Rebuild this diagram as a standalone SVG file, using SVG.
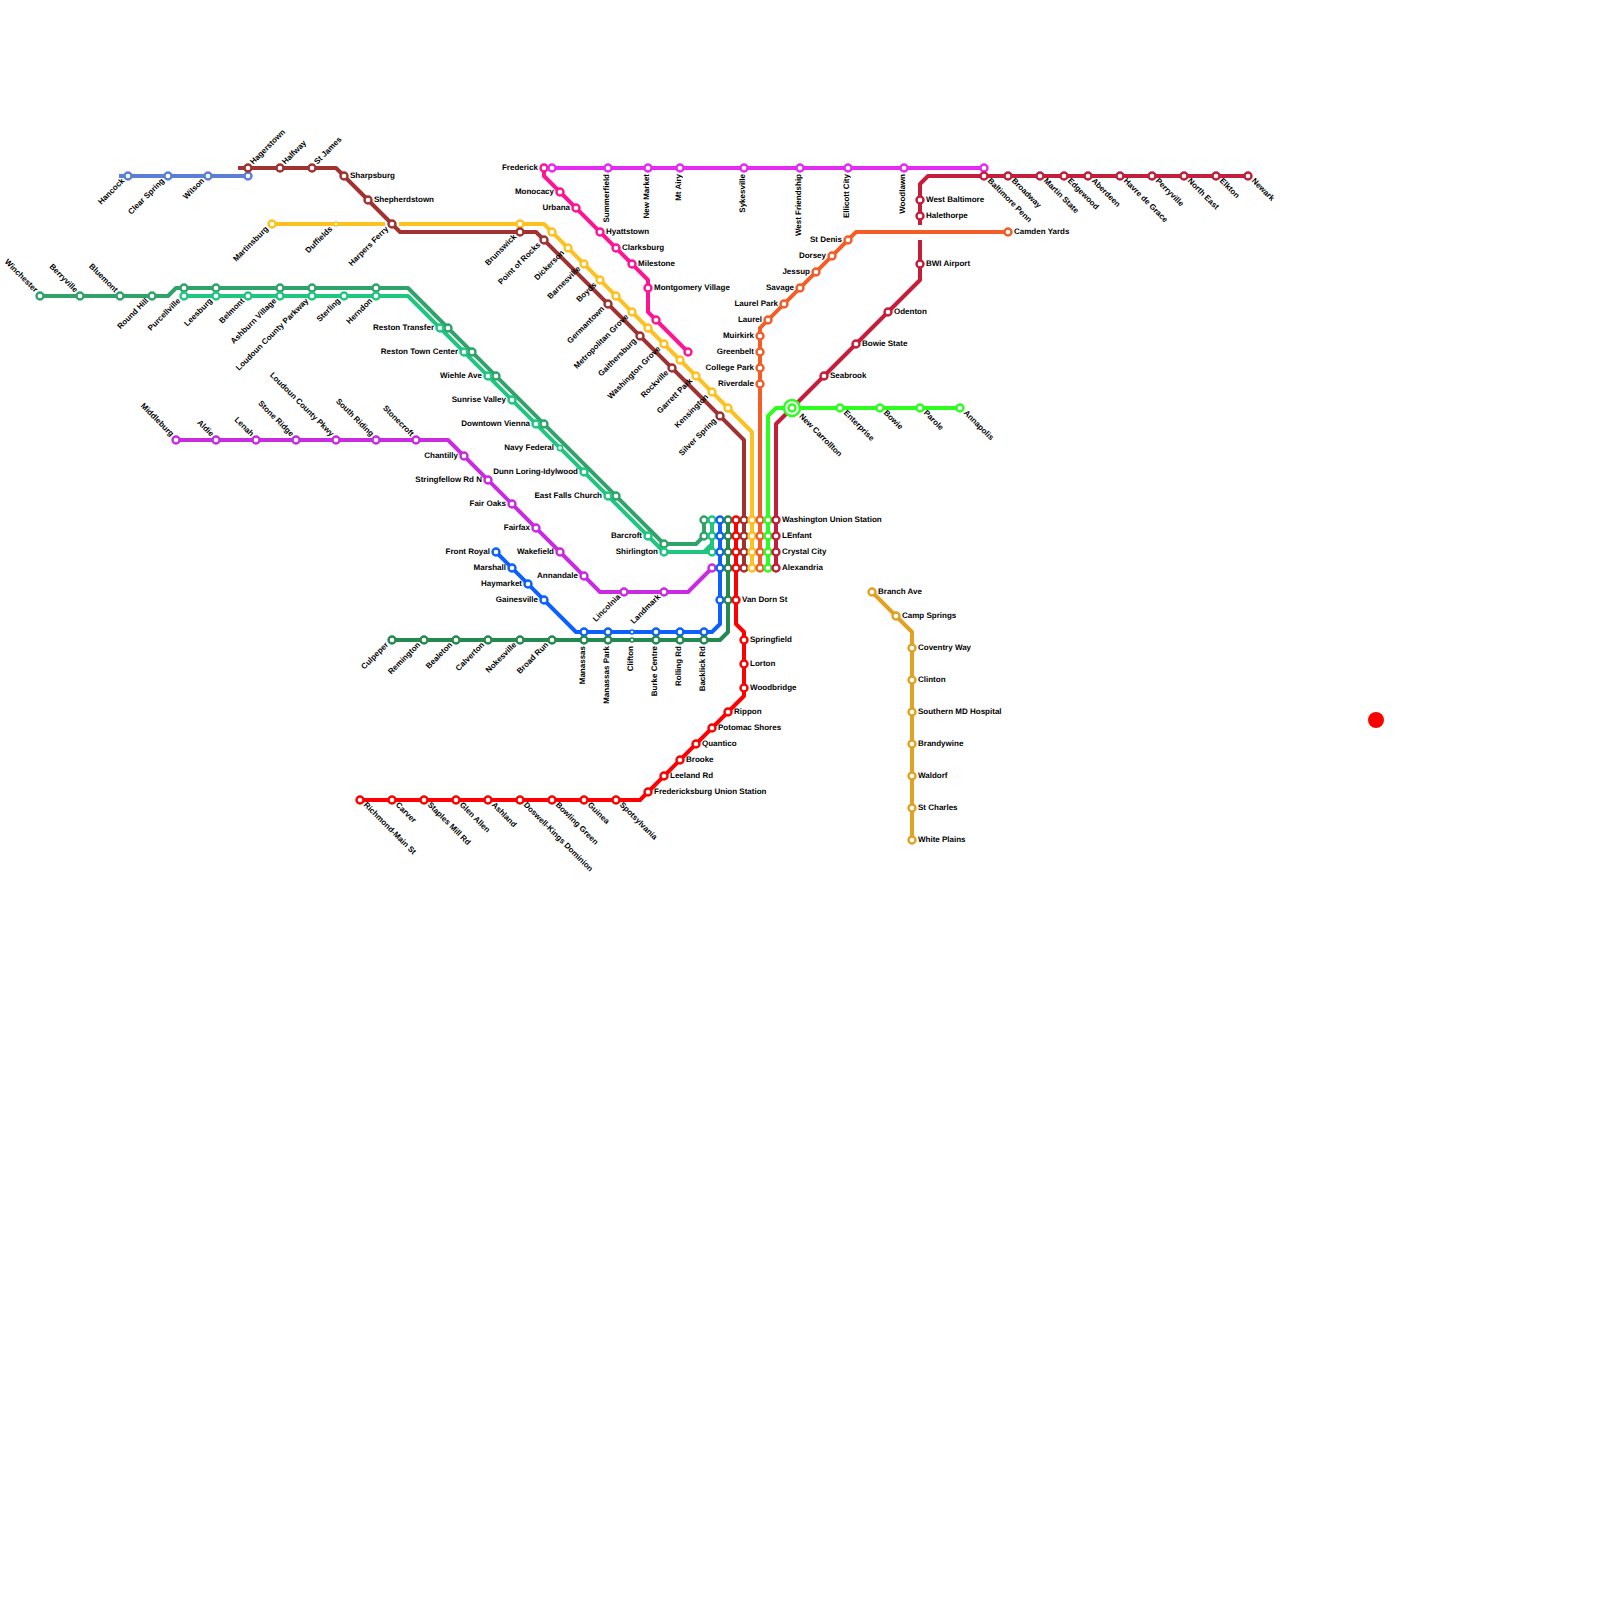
<svg xmlns="http://www.w3.org/2000/svg" width="1600" height="1600" viewBox="0 0 1600 1600">
<style>
text{font-family:"Liberation Sans",Arial,sans-serif;font-size:8px;font-weight:700;fill:#000;text-rendering:geometricPrecision}
.e{text-anchor:end}
.l{fill:none;stroke-width:4;stroke-linejoin:round}
circle{fill:#fff;stroke-width:2.4;r:3.5px}
.sm{stroke-width:1.4;r:2px}
.md{stroke-width:1.6;r:2.6px}
.blu{stroke:#5a7fd6}.bro{stroke:#a03232}.yel{stroke:#ffc11f}.mgr{stroke:#31a26a}.tea{stroke:#1ec67f}.pur{stroke:#c92be0}.pin{stroke:#ff1493}.mag{stroke:#e62af5}.cri{stroke:#c41e3a}.ora{stroke:#f45d26}.lim{stroke:#2cff1f}.dgr{stroke:#23894f}.bbl{stroke:#0c60ff}.red{stroke:#ff0000}.gol{stroke:#e2a11f}
</style>
<g id="connectors">
<path class="l blu" d="M119 176H248"/>
<path class="l bro" d="M238 168H336L400 232H536L744 440V568"/>
<path class="l yel" d="M272 224H385M399 224H544L752 432V568"/>
<path class="l pin" d="M544 168V176L648 280V312L688 352"/>
<path class="l mag" d="M552 168H984"/>
<path class="l cri" d="M1248 176H928L920 184V225M920 240V280L776 424V568"/>
<path class="l ora" d="M1008 232H856L760 328V568"/>
<path class="l lim" d="M960 408H776L768 416V568"/>
<path class="l mgr" d="M40 296H168L176 288H408L664 544H696L704 536V520"/>
<path class="l tea" d="M184 296H408L664 552H704L712 544V520M704 552H712V544"/>
<path class="l pur" d="M176 440H448L600 592H688L712 568"/>
<path class="l bbl" d="M496 552L576 632H712L720 624V520"/>
<path class="l dgr" d="M392 640H720L728 632V520"/>
<path class="l red" d="M736 520V624L744 632V696L640 800H360"/>
<path class="l gol" d="M872 592L912 632V840"/>
</g>
<circle id="marker-dot" cx="1376" cy="720" style="r:8px;fill:#ff0000;stroke:none"/>
<g id="stations">
<g id="hancock"><circle class="blu" cx="128" cy="176"/><text class="e" transform="translate(128 176) rotate(-45)" x="-6" y="1.5">Hancock</text></g>
<g id="clear-spring"><circle class="blu" cx="168" cy="176"/><text class="e" transform="translate(168 176) rotate(-45)" x="-6" y="1.5">Clear Spring</text></g>
<g id="wilson"><circle class="blu" cx="208" cy="176"/><text class="e" transform="translate(208 176) rotate(-45)" x="-6" y="1.5">Wilson</text></g>
<g id="hagerstown"><circle class="blu" cx="248" cy="176"/><circle class="bro" cx="248" cy="168"/><text transform="translate(248 168) rotate(-45)" x="6" y="1.5">Hagerstown</text></g>
<g id="hallway"><circle class="bro" cx="280" cy="168"/><text transform="translate(280 168) rotate(-45)" x="6" y="1.5">Halfway</text></g>
<g id="st-james"><circle class="bro" cx="312" cy="168"/><text transform="translate(312 168) rotate(-45)" x="6" y="1.5">St James</text></g>
<g id="sharpsburg"><circle class="bro" cx="344" cy="176"/><text x="350" y="177.5">Sharpsburg</text></g>
<g id="shepherdstown"><circle class="bro" cx="368" cy="200"/><text x="374" y="201.5">Shepherdstown</text></g>
<g id="harpers-ferry"><circle class="bro" cx="392" cy="224"/><text class="e" transform="translate(392 224) rotate(-45)" x="-6" y="1.5">Harpers Ferry</text></g>
<g id="martinsburg"><circle class="yel" cx="272" cy="224"/><text class="e" transform="translate(272 224) rotate(-45)" x="-6" y="1.5">Martinsburg</text></g>
<g id="duffields"><circle class="yel sm" cx="336" cy="224"/><text class="e" transform="translate(336 224) rotate(-45)" x="-6" y="1.5">Duffields</text></g>
<g id="brunswick"><circle class="yel" cx="520" cy="224"/><circle class="bro" cx="520" cy="232"/><text class="e" transform="translate(520 232) rotate(-45)" x="-6" y="1.5">Brunswick</text></g>
<g id="point-of-rocks"><circle class="bro" cx="544" cy="240"/><text class="e" transform="translate(544 240) rotate(-45)" x="-6" y="1.5">Point of Rocks</text></g>
<g id="yellow-552"><circle class="yel" cx="552" cy="232"/></g>
<g id="dickerson"><circle class="yel" cx="568" cy="248"/><text class="e" transform="translate(568 248) rotate(-45)" x="-6" y="1.5">Dickerson</text></g>
<g id="barnesville"><circle class="yel" cx="584" cy="264"/><text class="e" transform="translate(584 264) rotate(-45)" x="-6" y="1.5">Barnesville</text></g>
<g id="boyds"><circle class="yel" cx="600" cy="280"/><text class="e" transform="translate(600 280) rotate(-45)" x="-6" y="1.5">Boyds</text></g>
<g id="germantown"><circle class="bro" cx="608" cy="304"/><text class="e" transform="translate(608 304) rotate(-45)" x="-6" y="1.5">Germantown</text></g>
<g id="yellow-616"><circle class="yel" cx="616" cy="296"/></g>
<g id="metropolitan-grove"><circle class="yel" cx="632" cy="312"/><text class="e" transform="translate(632 312) rotate(-45)" x="-6" y="1.5">Metropolitan Grove</text></g>
<g id="gaithersburg"><circle class="bro" cx="640" cy="336"/><text class="e" transform="translate(640 336) rotate(-45)" x="-6" y="1.5">Gaithersburg</text></g>
<g id="yellow-648"><circle class="yel" cx="648" cy="328"/></g>
<g id="washington-grove"><circle class="yel" cx="664" cy="344"/><text class="e" transform="translate(664 344) rotate(-45)" x="-6" y="1.5">Washington Grove</text></g>
<g id="rockville"><circle class="bro" cx="672" cy="368"/><text class="e" transform="translate(672 368) rotate(-45)" x="-6" y="1.5">Rockville</text></g>
<g id="yellow-680"><circle class="yel" cx="680" cy="360"/></g>
<g id="garrett-park"><circle class="yel" cx="696" cy="376"/><text class="e" transform="translate(696 376) rotate(-45)" x="-6" y="1.5">Garrett Park</text></g>
<g id="kensington"><circle class="yel" cx="712" cy="392"/><text class="e" transform="translate(712 392) rotate(-45)" x="-6" y="1.5">Kensington</text></g>
<g id="silver-spring"><circle class="bro" cx="720" cy="416"/><text class="e" transform="translate(720 416) rotate(-45)" x="-6" y="1.5">Silver Spring</text></g>
<g id="yellow-728"><circle class="yel" cx="728" cy="408"/></g>
<g id="frederick"><circle class="pin" cx="544" cy="168"/><circle class="mag" cx="552" cy="168"/><text class="e" x="538" y="169.5">Frederick</text></g>
<g id="monocacy"><circle class="pin" cx="560" cy="192"/><text class="e" x="554" y="193.5">Monocacy</text></g>
<g id="urbana"><circle class="pin" cx="576" cy="208"/><text class="e" x="570" y="209.5">Urbana</text></g>
<g id="hyattstown"><circle class="pin" cx="600" cy="232"/><text x="606" y="233.5">Hyattstown</text></g>
<g id="clarksburg"><circle class="pin" cx="616" cy="248"/><text x="622" y="249.5">Clarksburg</text></g>
<g id="milestone"><circle class="pin" cx="632" cy="264"/><text x="638" y="265.5">Milestone</text></g>
<g id="montgomery-village"><circle class="pin" cx="648" cy="288"/><text x="654" y="289.5">Montgomery Village</text></g>
<g id="pink-656"><circle class="pin" cx="656" cy="320"/></g>
<g id="pink-688"><circle class="pin" cx="688" cy="352"/></g>
<g id="summerfield"><circle class="mag" cx="608" cy="168"/><text class="e" transform="translate(608 168) rotate(-90)" x="-6" y="1">Summerfield</text></g>
<g id="new-market"><circle class="mag" cx="648" cy="168"/><text class="e" transform="translate(648 168) rotate(-90)" x="-6" y="1">New Market</text></g>
<g id="mt-airy"><circle class="mag" cx="680" cy="168"/><text class="e" transform="translate(680 168) rotate(-90)" x="-6" y="1">Mt Airy</text></g>
<g id="sykesville"><circle class="mag" cx="744" cy="168"/><text class="e" transform="translate(744 168) rotate(-90)" x="-6" y="1">Sykesville</text></g>
<g id="west-friendship"><circle class="mag" cx="800" cy="168"/><text class="e" transform="translate(800 168) rotate(-90)" x="-6" y="1">West Friendship</text></g>
<g id="ellicott-city"><circle class="mag" cx="848" cy="168"/><text class="e" transform="translate(848 168) rotate(-90)" x="-6" y="1">Ellicott City</text></g>
<g id="woodlawn"><circle class="mag" cx="904" cy="168"/><text class="e" transform="translate(904 168) rotate(-90)" x="-6" y="1">Woodlawn</text></g>
<g id="baltimore-penn"><circle class="mag" cx="984" cy="168"/><circle class="cri" cx="984" cy="176"/><text transform="translate(984 176) rotate(45)" x="6" y="1.5">Baltimore Penn</text></g>
<g id="broadway"><circle class="cri" cx="1008" cy="176"/><text transform="translate(1008 176) rotate(45)" x="6" y="1.5">Broadway</text></g>
<g id="martin-state"><circle class="cri" cx="1040" cy="176"/><text transform="translate(1040 176) rotate(45)" x="6" y="1.5">Martin State</text></g>
<g id="edgewood"><circle class="cri" cx="1064" cy="176"/><text transform="translate(1064 176) rotate(45)" x="6" y="1.5">Edgewood</text></g>
<g id="aberdeen"><circle class="cri" cx="1088" cy="176"/><text transform="translate(1088 176) rotate(45)" x="6" y="1.5">Aberdeen</text></g>
<g id="havre-de-grace"><circle class="cri" cx="1120" cy="176"/><text transform="translate(1120 176) rotate(45)" x="6" y="1.5">Havre de Grace</text></g>
<g id="perryville"><circle class="cri" cx="1152" cy="176"/><text transform="translate(1152 176) rotate(45)" x="6" y="1.5">Perryville</text></g>
<g id="north-east"><circle class="cri" cx="1184" cy="176"/><text transform="translate(1184 176) rotate(45)" x="6" y="1.5">North East</text></g>
<g id="elkton"><circle class="cri" cx="1216" cy="176"/><text transform="translate(1216 176) rotate(45)" x="6" y="1.5">Elkton</text></g>
<g id="newark"><circle class="cri" cx="1248" cy="176"/><text transform="translate(1248 176) rotate(45)" x="6" y="1.5">Newark</text></g>
<g id="west-baltimore"><circle class="cri" cx="920" cy="200"/><text x="926" y="201.5">West Baltimore</text></g>
<g id="halethorpe"><circle class="cri" cx="920" cy="216"/><text x="926" y="217.5">Halethorpe</text></g>
<g id="bwi-airport"><circle class="cri" cx="920" cy="264"/><text x="926" y="265.5">BWI Airport</text></g>
<g id="odenton"><circle class="cri" cx="888" cy="312"/><text x="894" y="313.5">Odenton</text></g>
<g id="bowie-state"><circle class="cri" cx="856" cy="344"/><text x="862" y="345.5">Bowie State</text></g>
<g id="seabrook"><circle class="cri" cx="824" cy="376"/><text x="830" y="377.5">Seabrook</text></g>
<g id="camden-yards"><circle class="ora" cx="1008" cy="232"/><text x="1014" y="233.5">Camden Yards</text></g>
<g id="st-denis"><circle class="ora" cx="848" cy="240"/><text class="e" x="842" y="241.5">St Denis</text></g>
<g id="dorsey"><circle class="ora" cx="832" cy="256"/><text class="e" x="826" y="257.5">Dorsey</text></g>
<g id="jessup"><circle class="ora" cx="816" cy="272"/><text class="e" x="810" y="273.5">Jessup</text></g>
<g id="savage"><circle class="ora" cx="800" cy="288"/><text class="e" x="794" y="289.5">Savage</text></g>
<g id="laurel-park"><circle class="ora" cx="784" cy="304"/><text class="e" x="778" y="305.5">Laurel Park</text></g>
<g id="laurel"><circle class="ora" cx="768" cy="320"/><text class="e" x="762" y="321.5">Laurel</text></g>
<g id="muirkirk"><circle class="ora" cx="760" cy="336"/><text class="e" x="754" y="337.5">Muirkirk</text></g>
<g id="greenbelt"><circle class="ora" cx="760" cy="352"/><text class="e" x="754" y="353.5">Greenbelt</text></g>
<g id="college-park"><circle class="ora" cx="760" cy="368"/><text class="e" x="754" y="369.5">College Park</text></g>
<g id="riverdale"><circle class="ora" cx="760" cy="384"/><text class="e" x="754" y="385.5">Riverdale</text></g>
<g id="new-carrollton"><circle class="lim" cx="792" cy="408" style="r:8px"/><circle class="lim" cx="792" cy="408"/><text transform="translate(792 408) rotate(45)" x="11" y="1.5">New Carrollton</text></g>
<g id="enterprise"><circle class="lim" cx="840" cy="408"/><text transform="translate(840 408) rotate(45)" x="6" y="1.5">Enterprise</text></g>
<g id="bowie"><circle class="lim" cx="880" cy="408"/><text transform="translate(880 408) rotate(45)" x="6" y="1.5">Bowie</text></g>
<g id="parole"><circle class="lim" cx="920" cy="408"/><text transform="translate(920 408) rotate(45)" x="6" y="1.5">Parole</text></g>
<g id="annapolis"><circle class="lim" cx="960" cy="408"/><text transform="translate(960 408) rotate(45)" x="6" y="1.5">Annapolis</text></g>
<g id="washington-union"><circle class="mgr" cx="704" cy="520"/><circle class="tea" cx="712" cy="520"/><circle class="bbl" cx="720" cy="520"/><circle class="dgr" cx="728" cy="520"/><circle class="red" cx="736" cy="520"/><circle class="bro" cx="744" cy="520"/><circle class="yel" cx="752" cy="520"/><circle class="ora" cx="760" cy="520"/><circle class="lim" cx="768" cy="520"/><circle class="cri" cx="776" cy="520"/><text x="782" y="521.5">Washington Union Station</text></g>
<g id="lenfant"><circle class="mgr" cx="704" cy="536"/><circle class="tea" cx="712" cy="536"/><circle class="bbl" cx="720" cy="536"/><circle class="dgr" cx="728" cy="536"/><circle class="red" cx="736" cy="536"/><circle class="bro" cx="744" cy="536"/><circle class="yel" cx="752" cy="536"/><circle class="ora" cx="760" cy="536"/><circle class="lim" cx="768" cy="536"/><circle class="cri" cx="776" cy="536"/><text x="782" y="537.5">LEnfant</text></g>
<g id="crystal-city"><circle class="tea" cx="712" cy="552"/><circle class="bbl" cx="720" cy="552"/><circle class="dgr" cx="728" cy="552"/><circle class="red" cx="736" cy="552"/><circle class="bro" cx="744" cy="552"/><circle class="yel" cx="752" cy="552"/><circle class="ora" cx="760" cy="552"/><circle class="lim" cx="768" cy="552"/><circle class="cri" cx="776" cy="552"/><text x="782" y="553.5">Crystal City</text></g>
<g id="alexandria"><circle class="pur" cx="712" cy="568"/><circle class="bbl" cx="720" cy="568"/><circle class="dgr" cx="728" cy="568"/><circle class="red" cx="736" cy="568"/><circle class="bro" cx="744" cy="568"/><circle class="yel" cx="752" cy="568"/><circle class="ora" cx="760" cy="568"/><circle class="lim" cx="768" cy="568"/><circle class="cri" cx="776" cy="568"/><text x="782" y="569.5">Alexandria</text></g>
<g id="van-dorn"><circle class="bbl" cx="720" cy="600"/><circle class="dgr" cx="728" cy="600"/><circle class="red" cx="736" cy="600"/><text x="742" y="601.5">Van Dorn St</text></g>
<g id="springfield"><circle class="red" cx="744" cy="640"/><text x="750" y="641.5">Springfield</text></g>
<g id="lorton"><circle class="red" cx="744" cy="664"/><text x="750" y="665.5">Lorton</text></g>
<g id="woodbridge"><circle class="red" cx="744" cy="688"/><text x="750" y="689.5">Woodbridge</text></g>
<g id="rippon"><circle class="red" cx="728" cy="712"/><text x="734" y="713.5">Rippon</text></g>
<g id="potomac-shores"><circle class="red" cx="712" cy="728"/><text x="718" y="729.5">Potomac Shores</text></g>
<g id="quantico"><circle class="red" cx="696" cy="744"/><text x="702" y="745.5">Quantico</text></g>
<g id="brooke"><circle class="red" cx="680" cy="760"/><text x="686" y="761.5">Brooke</text></g>
<g id="leeland-rd"><circle class="red" cx="664" cy="776"/><text x="670" y="777.5">Leeland Rd</text></g>
<g id="fredericksburg"><circle class="red" cx="648" cy="792"/><text x="654" y="793.5">Fredericksburg Union Station</text></g>
<g id="spotsylvania"><circle class="red" cx="616" cy="800"/><text transform="translate(616 800) rotate(45)" x="6" y="1.5">Spotsylvania</text></g>
<g id="guinea"><circle class="red" cx="584" cy="800"/><text transform="translate(584 800) rotate(45)" x="6" y="1.5">Guinea</text></g>
<g id="bowling-green"><circle class="red" cx="552" cy="800"/><text transform="translate(552 800) rotate(45)" x="6" y="1.5">Bowling Green</text></g>
<g id="doswell"><circle class="red" cx="520" cy="800"/><text transform="translate(520 800) rotate(45)" x="6" y="1.5">Doswell-Kings Dominion</text></g>
<g id="ashland"><circle class="red" cx="488" cy="800"/><text transform="translate(488 800) rotate(45)" x="6" y="1.5">Ashland</text></g>
<g id="glen-allen"><circle class="red" cx="456" cy="800"/><text transform="translate(456 800) rotate(45)" x="6" y="1.5">Glen Allen</text></g>
<g id="staples-mill"><circle class="red" cx="424" cy="800"/><text transform="translate(424 800) rotate(45)" x="6" y="1.5">Staples Mill Rd</text></g>
<g id="carver"><circle class="red" cx="392" cy="800"/><text transform="translate(392 800) rotate(45)" x="6" y="1.5">Carver</text></g>
<g id="richmond"><circle class="red" cx="360" cy="800"/><text transform="translate(360 800) rotate(45)" x="6" y="1.5">Richmond-Main St</text></g>
<g id="winchester"><circle class="mgr" cx="40" cy="296"/><text class="e" transform="translate(40 296) rotate(45)" x="-6" y="1.5">Winchester</text></g>
<g id="berryville"><circle class="mgr" cx="80" cy="296"/><text class="e" transform="translate(80 296) rotate(45)" x="-6" y="1.5">Berryville</text></g>
<g id="bluemont"><circle class="mgr" cx="120" cy="296"/><text class="e" transform="translate(120 296) rotate(45)" x="-6" y="1.5">Bluemont</text></g>
<g id="round-hill"><circle class="mgr" cx="152" cy="296"/><text class="e" transform="translate(152 296) rotate(-45)" x="-6" y="1.5">Round Hill</text></g>
<g id="purcellville"><circle class="mgr" cx="184" cy="288"/><circle class="tea" cx="184" cy="296"/><text class="e" transform="translate(184 296) rotate(-45)" x="-6" y="1.5">Purcellville</text></g>
<g id="leesburg"><circle class="mgr" cx="216" cy="288"/><circle class="tea" cx="216" cy="296"/><text class="e" transform="translate(216 296) rotate(-45)" x="-6" y="1.5">Leesburg</text></g>
<g id="belmont"><circle class="tea" cx="248" cy="296"/><text class="e" transform="translate(248 296) rotate(-45)" x="-6" y="1.5">Belmont</text></g>
<g id="ashburn"><circle class="mgr" cx="280" cy="288"/><circle class="tea" cx="280" cy="296"/><text class="e" transform="translate(280 296) rotate(-45)" x="-6" y="1.5">Ashburn Village</text></g>
<g id="loudoun-parkway"><circle class="mgr" cx="312" cy="288"/><circle class="tea" cx="312" cy="296"/><text class="e" transform="translate(312 296) rotate(-45)" x="-6" y="1.5">Loudoun County Parkway</text></g>
<g id="sterling"><circle class="tea" cx="344" cy="296"/><text class="e" transform="translate(344 296) rotate(-45)" x="-6" y="1.5">Sterling</text></g>
<g id="herndon"><circle class="mgr" cx="376" cy="288"/><circle class="tea" cx="376" cy="296"/><text class="e" transform="translate(376 296) rotate(-45)" x="-6" y="1.5">Herndon</text></g>
<g id="reston-transfer"><circle class="mgr" cx="448" cy="328"/><circle class="tea" cx="440" cy="328"/><text class="e" x="434" y="329.5">Reston Transfer</text></g>
<g id="reston-town-center"><circle class="mgr" cx="472" cy="352"/><circle class="tea" cx="464" cy="352"/><text class="e" x="458" y="353.5">Reston Town Center</text></g>
<g id="wiehle-ave"><circle class="mgr" cx="496" cy="376"/><circle class="tea" cx="488" cy="376"/><text class="e" x="482" y="377.5">Wiehle Ave</text></g>
<g id="sunrise-valley"><circle class="tea" cx="512" cy="400"/><text class="e" x="506" y="401.5">Sunrise Valley</text></g>
<g id="downtown-vienna"><circle class="mgr" cx="544" cy="424"/><circle class="tea" cx="536" cy="424"/><text class="e" x="530" y="425.5">Downtown Vienna</text></g>
<g id="navy-federal"><circle class="tea md" cx="560" cy="448"/><text class="e" x="554" y="449.5">Navy Federal</text></g>
<g id="dunn-loring"><circle class="tea" cx="584" cy="472"/><text class="e" x="578" y="473.5">Dunn Loring-Idylwood</text></g>
<g id="east-falls-church"><circle class="mgr" cx="616" cy="496"/><circle class="tea" cx="608" cy="496"/><text class="e" x="602" y="497.5">East Falls Church</text></g>
<g id="barcroft"><circle class="tea" cx="648" cy="536"/><text class="e" x="642" y="537.5">Barcroft</text></g>
<g id="shirlington"><circle class="mgr" cx="664" cy="544"/><circle class="tea" cx="664" cy="552"/><text class="e" x="658" y="553.5">Shirlington</text></g>
<g id="middleburg"><circle class="pur" cx="176" cy="440"/><text class="e" transform="translate(176 440) rotate(45)" x="-6" y="1.5">Middleburg</text></g>
<g id="aldie"><circle class="pur" cx="216" cy="440"/><text class="e" transform="translate(216 440) rotate(45)" x="-6" y="1.5">Aldie</text></g>
<g id="lenah"><circle class="pur" cx="256" cy="440"/><text class="e" transform="translate(256 440) rotate(45)" x="-6" y="1.5">Lenah</text></g>
<g id="stone-ridge"><circle class="pur" cx="296" cy="440"/><text class="e" transform="translate(296 440) rotate(45)" x="-6" y="1.5">Stone Ridge</text></g>
<g id="loudoun-pkwy"><circle class="pur" cx="336" cy="440"/><text class="e" transform="translate(336 440) rotate(45)" x="-6" y="1.5">Loudoun County Pkwy</text></g>
<g id="south-riding"><circle class="pur" cx="376" cy="440"/><text class="e" transform="translate(376 440) rotate(45)" x="-6" y="1.5">South Riding</text></g>
<g id="stonecroft"><circle class="pur" cx="416" cy="440"/><text class="e" transform="translate(416 440) rotate(45)" x="-6" y="1.5">Stonecroft</text></g>
<g id="chantilly"><circle class="pur" cx="464" cy="456"/><text class="e" x="458" y="457.5">Chantilly</text></g>
<g id="stringfellow"><circle class="pur" cx="488" cy="480"/><text class="e" x="482" y="481.5">Stringfellow Rd N</text></g>
<g id="fair-oaks"><circle class="pur" cx="512" cy="504"/><text class="e" x="506" y="505.5">Fair Oaks</text></g>
<g id="fairfax"><circle class="pur" cx="536" cy="528"/><text class="e" x="530" y="529.5">Fairfax</text></g>
<g id="wakefield"><circle class="pur" cx="560" cy="552"/><text class="e" x="554" y="553.5">Wakefield</text></g>
<g id="annandale"><circle class="pur" cx="584" cy="576"/><text class="e" x="578" y="577.5">Annandale</text></g>
<g id="lincolnia"><circle class="pur" cx="624" cy="592"/><text class="e" transform="translate(624 592) rotate(-45)" x="-6" y="1.5">Lincolnia</text></g>
<g id="landmark"><circle class="pur" cx="664" cy="592"/><text class="e" transform="translate(664 592) rotate(-45)" x="-6" y="1.5">Landmark</text></g>
<g id="front-royal"><circle class="bbl" cx="496" cy="552"/><text class="e" x="490" y="553.5">Front Royal</text></g>
<g id="marshall"><circle class="bbl" cx="512" cy="568"/><text class="e" x="506" y="569.5">Marshall</text></g>
<g id="haymarket"><circle class="bbl" cx="528" cy="584"/><text class="e" x="522" y="585.5">Haymarket</text></g>
<g id="gainesville"><circle class="bbl" cx="544" cy="600"/><text class="e" x="538" y="601.5">Gainesville</text></g>
<g id="culpeper"><circle class="dgr" cx="392" cy="640"/><text class="e" transform="translate(392 640) rotate(-45)" x="-6" y="1.5">Culpeper</text></g>
<g id="remington"><circle class="dgr" cx="424" cy="640"/><text class="e" transform="translate(424 640) rotate(-45)" x="-6" y="1.5">Remington</text></g>
<g id="bealeton"><circle class="dgr" cx="456" cy="640"/><text class="e" transform="translate(456 640) rotate(-45)" x="-6" y="1.5">Bealeton</text></g>
<g id="calverton"><circle class="dgr" cx="488" cy="640"/><text class="e" transform="translate(488 640) rotate(-45)" x="-6" y="1.5">Calverton</text></g>
<g id="nokesville"><circle class="dgr" cx="520" cy="640"/><text class="e" transform="translate(520 640) rotate(-45)" x="-6" y="1.5">Nokesville</text></g>
<g id="broad-run"><circle class="dgr" cx="552" cy="640"/><text class="e" transform="translate(552 640) rotate(-45)" x="-6" y="1.5">Broad Run</text></g>
<g id="manassas"><circle class="bbl" cx="584" cy="632"/><circle class="dgr" cx="584" cy="640"/><text class="e" transform="translate(584 640) rotate(-90)" x="-6" y="1">Manassas</text></g>
<g id="manassas-park"><circle class="bbl" cx="608" cy="632"/><circle class="dgr" cx="608" cy="640"/><text class="e" transform="translate(608 640) rotate(-90)" x="-6" y="1">Manassas Park</text></g>
<g id="clifton"><circle class="bbl sm" cx="632" cy="632"/><circle class="dgr sm" cx="632" cy="640"/><text class="e" transform="translate(632 640) rotate(-90)" x="-6" y="1">Clifton</text></g>
<g id="burke-centre"><circle class="bbl" cx="656" cy="632"/><circle class="dgr" cx="656" cy="640"/><text class="e" transform="translate(656 640) rotate(-90)" x="-6" y="1">Burke Centre</text></g>
<g id="rolling-rd"><circle class="bbl" cx="680" cy="632"/><circle class="dgr" cx="680" cy="640"/><text class="e" transform="translate(680 640) rotate(-90)" x="-6" y="1">Rolling Rd</text></g>
<g id="backlick-rd"><circle class="bbl" cx="704" cy="632"/><circle class="dgr" cx="704" cy="640"/><text class="e" transform="translate(704 640) rotate(-90)" x="-6" y="1">Backlick Rd</text></g>
<g id="branch-ave"><circle class="gol" cx="872" cy="592"/><text x="878" y="593.5">Branch Ave</text></g>
<g id="camp-springs"><circle class="gol" cx="896" cy="616"/><text x="902" y="617.5">Camp Springs</text></g>
<g id="coventry-way"><circle class="gol" cx="912" cy="648"/><text x="918" y="649.5">Coventry Way</text></g>
<g id="clinton"><circle class="gol" cx="912" cy="680"/><text x="918" y="681.5">Clinton</text></g>
<g id="southern-md"><circle class="gol" cx="912" cy="712"/><text x="918" y="713.5">Southern MD Hospital</text></g>
<g id="brandywine"><circle class="gol" cx="912" cy="744"/><text x="918" y="745.5">Brandywine</text></g>
<g id="waldorf"><circle class="gol" cx="912" cy="776"/><text x="918" y="777.5">Waldorf</text></g>
<g id="st-charles"><circle class="gol" cx="912" cy="808"/><text x="918" y="809.5">St Charles</text></g>
<g id="white-plains"><circle class="gol" cx="912" cy="840"/><text x="918" y="841.5">White Plains</text></g>
</g>
</svg>
